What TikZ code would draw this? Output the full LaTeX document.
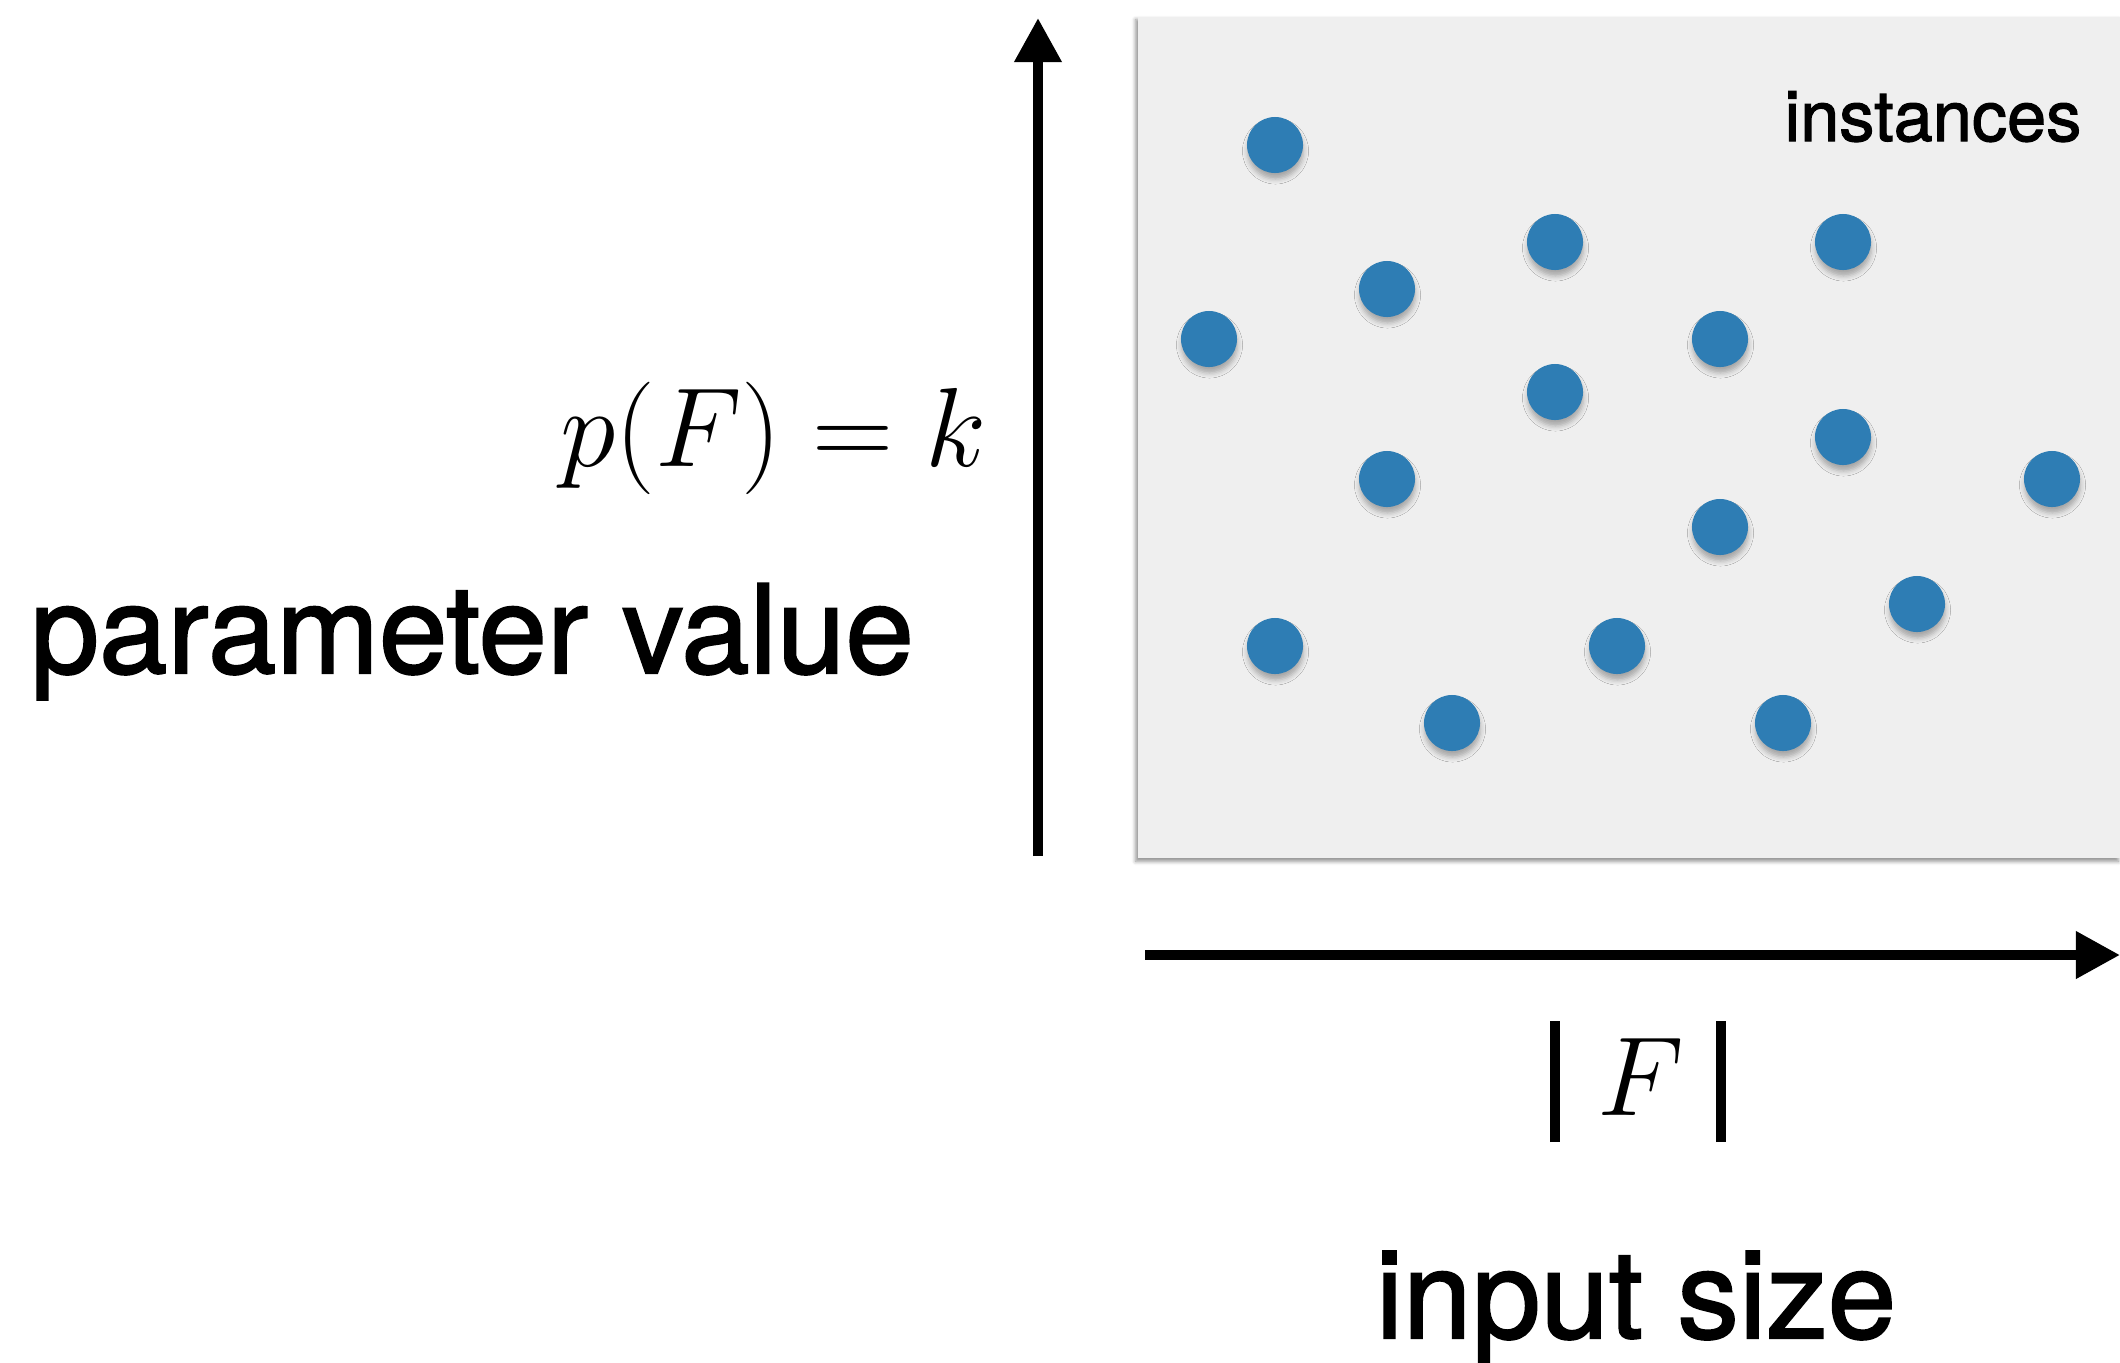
\RequirePackage{fix-cm}
\documentclass[tikz,border=0pt]{standalone}
\usepackage{fontspec}
\setmainfont{TeX Gyre Heros}[FakeBold=1.6]
\usetikzlibrary{arrows.meta,shadows.blur}
\definecolor{dotblue}{RGB}{46,125,180}
\definecolor{boxgray}{RGB}{239,239,239}
\newcommand{\sizebar}{\rule[-0.27cm]{0.1cm}{1.21cm}}
\begin{document}
\begin{tikzpicture}[
    x=0.01cm, y=-0.01cm,
    instance/.style={circle, fill=dotblue, inner sep=0pt, minimum size=0.56cm,
        blur shadow={shadow xshift=0.005cm, shadow yshift=-0.06cm, shadow blur radius=0.05cm, shadow opacity=30}},
    instbox/.style={rectangle, fill=boxgray, inner sep=0pt,
        blur shadow={shadow xshift=-0.02cm, shadow yshift=-0.03cm, shadow blur radius=0.04cm, shadow opacity=45}},
    axis/.style={line width=0.1cm, -{Triangle[length=0.44cm, width=0.45cm]}},
    bigword/.style={inner sep=0pt, font=\fontsize{35}{42}\selectfont},
    mathword/.style={inner sep=0pt, font=\fontsize{32}{38}\selectfont}
]
    \useasboundingbox (0,0) rectangle (2120,1363);
    % Instance space
    \node[instbox, minimum width=9.82cm, minimum height=8.41cm] (space) at (1629,437.5) {};
    \node[inner sep=0pt, anchor=base east, font=\fontsize{20}{24}\selectfont] (instlabel) at (2082,141) {instances};
    % Instances
    \foreach \x/\y [count=\i] in {1275/145, 1555/242, 1843/242, 1387/289, 1209/339,
        1720/339, 1555/392, 1843/437, 1387/479, 2052/479, 1720/527, 1917/604,
        1275/646, 1617/646, 1452/723, 1783/723}
        \node[instance] (f\i) at (\x,\y) {};
    % Axes
    \coordinate (yfoot) at (1038,856);
    \coordinate (ytip) at (1038,18);
    \coordinate (xfoot) at (1145,955);
    \coordinate (xtip) at (2120,955);
    \draw[axis] (yfoot) -- (ytip);
    \draw[axis] (xfoot) -- (xtip);
    % Labels
    \node[mathword, anchor=base east] (param) at (987,466) {$p(F) = k$};
    \node[bigword, anchor=base west] (paramlabel) at (30,673) {parameter value};
    \node[mathword, anchor=base] (size) at (1638,1115) {$\sizebar\hspace{0.38cm}F\hspace{0.32cm}\sizebar$};
    \node[bigword, anchor=base] (sizelabel) at (1636,1338) {input size};
\end{tikzpicture}
\end{document}
